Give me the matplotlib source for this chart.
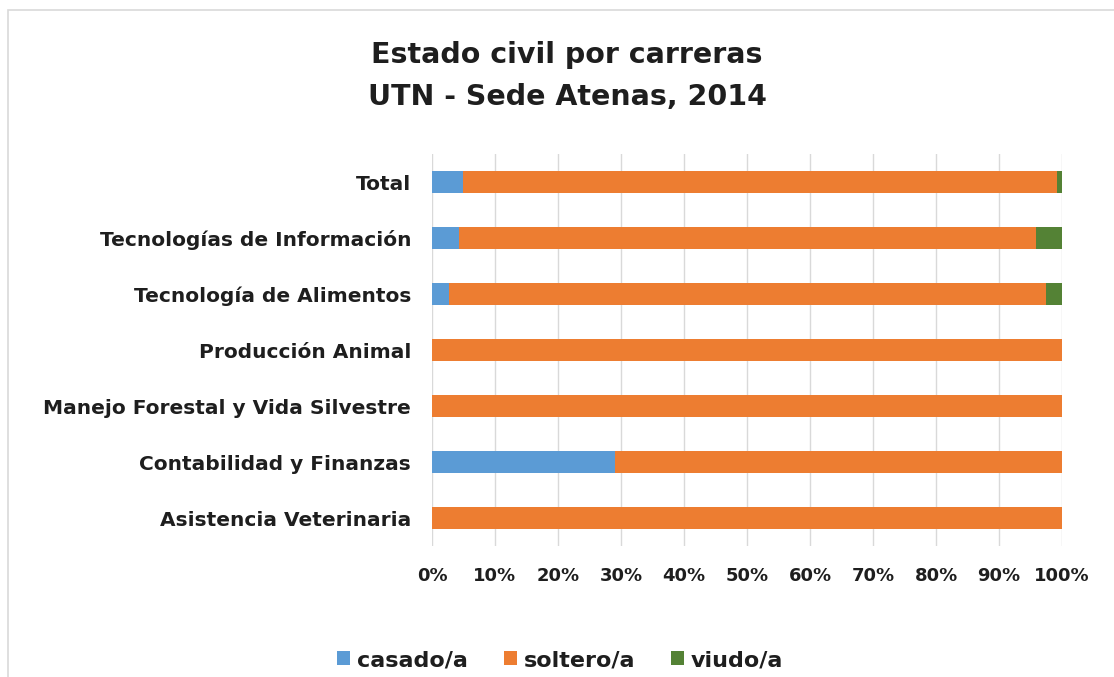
import numpy as np
import matplotlib
matplotlib.use("Agg")
import matplotlib.pyplot as plt
from matplotlib.patches import Rectangle

plt.rcParams['font.family'] = ['DejaVu Sans']

carreras = ['Asistencia Veterinaria', 'Contabilidad y Finanzas',
            'Manejo Forestal y Vida Silvestre', 'Producción Animal',
            'Tecnología de Alimentos', 'Tecnologías de Información', 'Total']
casado = [0.0, 29.0, 0.0, 0.0, 2.7, 4.3, 4.9]
soltero = [100.0, 71.0, 100.0, 100.0, 94.8, 91.6, 94.3]
viudo = [0.0, 0.0, 0.0, 0.0, 2.5, 4.1, 0.8]
series = ['casado/a', 'soltero/a', 'viudo/a']
colores = ['#5B9BD5', '#ED7D31', '#548235']

W, H = 1114, 677
fig = plt.figure(figsize=(W / 100, H / 100), dpi=100)
# marco del grafico (solo se ven lados izquierdo y superior)
fig.patches.append(Rectangle((8 / W, -0.1), 1.2, (H - 10) / H + 0.1, transform=fig.transFigure,
                             fill=False, edgecolor='#D9D9D9', linewidth=1.2))
ax = fig.add_axes([432 / W, (H - 546) / H, 630 / W, 392 / H])

y = np.arange(len(carreras))
left = np.zeros(len(carreras))
for vals, nombre, c in zip([casado, soltero, viudo], series, colores):
    ax.barh(y, vals, left=left, height=0.38, color=c, label=nombre, zorder=3)
    left += np.array(vals)

ax.set_xlim(0, 100)
ax.set_ylim(-0.5, len(carreras) - 0.5)
ax.set_xticks(np.arange(0, 101, 10))
ax.set_xticklabels([f'{v}%' for v in range(0, 101, 10)])
ax.set_yticks(y)
ax.set_yticklabels(carreras)
ax.grid(axis='x', color='#D9D9D9', linewidth=1, zorder=0)
for s in ax.spines.values():
    s.set_visible(False)
ax.tick_params(length=0)
ax.tick_params(axis='x', pad=15, labelsize=13, labelcolor='#1E1E1E')
ax.tick_params(axis='y', pad=15, labelsize=14.5, labelcolor='#1E1E1E')
for t in ax.get_xticklabels() + ax.get_yticklabels():
    t.set_fontweight('bold')

fig.text(567 / W, 1 - 55 / H, 'Estado civil por carreras', ha='center', va='center',
         fontsize=20.5, fontweight='bold', color='#1E1E1E')
fig.text(567 / W, 1 - 97 / H, 'UTN - Sede Atenas, 2014', ha='center', va='center',
         fontsize=20.5, fontweight='bold', color='#1E1E1E')

fig.legend(loc='center', bbox_to_anchor=(560 / W, 1 - 660 / H), ncol=3, frameon=False,
           prop={'size': 16, 'weight': 'bold'}, handlelength=0.6, handleheight=0.6,
           handletextpad=0.3, columnspacing=1.6, labelcolor='#1E1E1E')

fig.savefig('out.png', dpi=100)
